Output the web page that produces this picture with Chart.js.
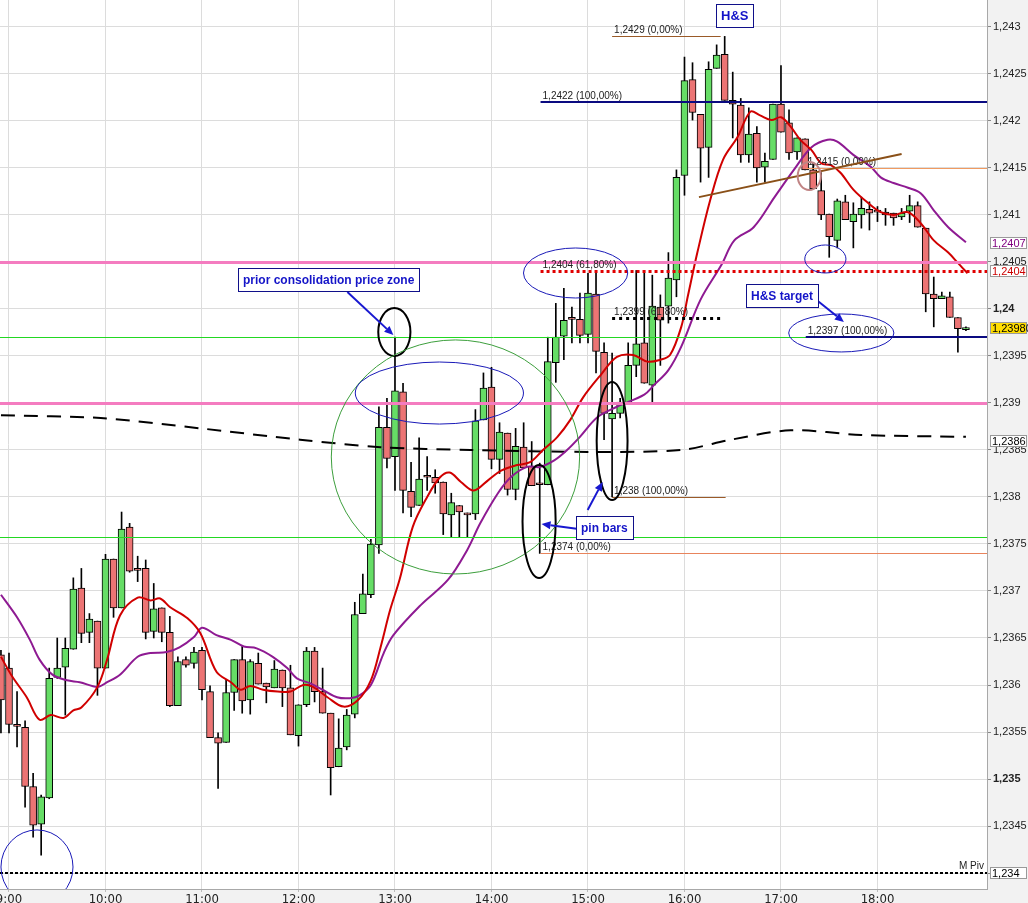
<!DOCTYPE html>
<html><head><meta charset="utf-8">
<script src="https://cdn.jsdelivr.net/npm/chart.js@4.4.0/dist/chart.umd.min.js"></script>
<style>html,body{margin:0;padding:0;background:#f2f2f2;}canvas{display:block;}</style>
</head><body>
<canvas id="c" width="1028" height="903"></canvas>
<script>
// ---- candle data (5-minute bars) ----
const times = ["8:55",
"9:00","9:05","9:10","9:15","9:20","9:25","9:30","9:35","9:40","9:45","9:50","9:55",
"10:00","10:05","10:10","10:15","10:20","10:25","10:30","10:35","10:40","10:45","10:50","10:55",
"11:00","11:05","11:10","11:15","11:20","11:25","11:30","11:35","11:40","11:45","11:50","11:55",
"12:00","12:05","12:10","12:15","12:20","12:25","12:30","12:35","12:40","12:45","12:50","12:55",
"13:00","13:05","13:10","13:15","13:20","13:25","13:30","13:35","13:40","13:45","13:50","13:55",
"14:00","14:05","14:10","14:15","14:20","14:25","14:30","14:35","14:40","14:45","14:50","14:55",
"15:00","15:05","15:10","15:15","15:20","15:25","15:30","15:35","15:40","15:45","15:50","15:55",
"16:00","16:05","16:10","16:15","16:20","16:25","16:30","16:35","16:40","16:45","16:50","16:55",
"17:00","17:05","17:10","17:15","17:20","17:25","17:30","17:35","17:40","17:45","17:50","17:55",
"18:00","18:05","18:10","18:15","18:20","18:25","18:30","18:35","18:40","18:45","18:50","18:55"];
const opens = [1.23632,1.23618,1.23558,1.23555,1.23492,1.23452,1.2348,1.23608,1.23619,1.23638,
1.23703,1.23656,1.23668,1.23618,1.23734,1.23682,1.23768,1.23723,1.23724,1.23657,
1.23682,1.23656,1.23578,1.23627,1.23623,1.23637,1.23593,1.23544,1.23539,1.23592,
1.23627,1.23584,1.23623,1.23602,1.23597,1.23616,1.23597,1.23546,1.23579,1.23636,
1.23593,1.2357,1.23513,1.23534,1.23569,1.23676,1.23696,1.23749,1.23874,1.23843,
1.23912,1.23806,1.23791,1.23822,1.23821,1.23816,1.23781,1.23791,1.23783,1.23782,
1.23882,1.23917,1.2384,1.23868,1.23808,1.23853,1.23833,1.23814,1.23813,1.23943,
1.23971,1.2399,1.23989,1.23973,1.24016,1.23954,1.23883,1.23889,1.239,1.2394,
1.23964,1.23919,1.24002,1.24003,1.24031,1.24142,1.24244,1.24207,1.24172,1.24256,
1.24271,1.24222,1.24217,1.24164,1.24187,1.24151,1.24159,1.24218,1.24198,1.24167,
1.24181,1.24148,1.24126,1.24101,1.24073,1.24114,1.24093,1.241,1.24106,1.24104,
1.24103,1.24102,1.24098,1.24104,1.2411,1.24086,1.24016,1.24011,1.24013,1.23991,1.23978];
const highs = [1.23637,1.23634,1.23593,1.23562,1.23506,1.23483,1.23618,1.2365,1.2365,1.23714,
1.23724,1.23676,1.23668,1.23739,1.23734,1.23784,1.23772,1.23737,1.23733,1.23708,
1.23682,1.23673,1.2363,1.2363,1.2364,1.2364,1.23599,1.23549,1.23605,1.23627,
1.23641,1.23627,1.23634,1.23602,1.23626,1.23616,1.23621,1.23579,1.2364,1.2364,
1.23618,1.2357,1.23564,1.23574,1.23688,1.23718,1.23755,1.23896,1.23905,1.2397,
1.23921,1.23837,1.23863,1.23843,1.23829,1.23816,1.23804,1.23791,1.23783,1.23893,
1.23932,1.23938,1.23879,1.23868,1.23873,1.23879,1.23859,1.23836,1.2397,1.24006,
1.24022,1.24002,1.24017,1.24038,1.24038,1.23964,1.23953,1.23905,1.23964,1.24041,
1.24041,1.24036,1.24015,1.2406,1.24148,1.24268,1.24262,1.24207,1.24263,1.24281,
1.2429,1.24252,1.24224,1.24214,1.24194,1.24166,1.24218,1.24259,1.24212,1.24182,
1.24181,1.24155,1.24145,1.24101,1.24117,1.24121,1.24113,1.24119,1.24114,1.24109,
1.24107,1.24102,1.24107,1.24121,1.24114,1.24086,1.24034,1.24018,1.24018,1.23991,1.23981];
const lows = [1.23549,1.23549,1.23534,1.2347,1.23438,1.23419,1.23479,1.23607,1.23568,1.23638,
1.23645,1.23645,1.23589,1.23618,1.23672,1.23682,1.2372,1.2371,1.23649,1.2365,
1.23646,1.23577,1.23578,1.23619,1.23618,1.23584,1.23544,1.2349,1.23539,1.23573,
1.2357,1.23569,1.23601,1.23581,1.23597,1.23577,1.23547,1.23535,1.23577,1.23582,
1.2357,1.23483,1.23513,1.23531,1.23565,1.23676,1.23693,1.2374,1.23831,1.23807,
1.23783,1.23779,1.23791,1.23807,1.23804,1.2376,1.23757,1.23757,1.23757,1.23776,
1.23882,1.2383,1.23825,1.23802,1.23797,1.23831,1.23812,1.2374,1.23813,1.23922,
1.23946,1.23964,1.23964,1.23964,1.23932,1.23861,1.238,1.23884,1.239,1.23928,
1.23921,1.23901,1.2394,1.23985,1.24013,1.24121,1.24201,1.24135,1.2414,1.24256,
1.24222,1.24182,1.24156,1.24156,1.24135,1.24135,1.24159,1.24188,1.24159,1.24159,
1.24148,1.24128,1.24095,1.24055,1.24065,1.24095,1.24065,1.24086,1.24084,1.24093,
1.24089,1.24089,1.24095,1.24092,1.24087,1.23997,1.23981,1.24011,1.23991,1.23954,1.23977];
const closes = [1.23584,1.23558,1.23556,1.23492,1.23451,1.23481,1.23607,1.23618,1.23639,1.23702,
1.23655,1.2367,1.23618,1.23734,1.23682,1.23766,1.23721,1.23722,1.23656,1.23681,
1.23656,1.23578,1.23625,1.23621,1.23635,1.23595,1.23544,1.23538,1.23592,1.23627,
1.23583,1.23625,1.23601,1.23598,1.23617,1.23597,1.23547,1.23579,1.23636,1.23593,
1.2357,1.23512,1.23533,1.23568,1.23675,1.23697,1.2375,1.23874,1.23841,1.23913,
1.23807,1.23789,1.23819,1.23821,1.23815,1.23782,1.23794,1.23784,1.23781,1.23881,
1.23916,1.2384,1.23869,1.23808,1.23854,1.23831,1.23812,1.23813,1.23944,1.2397,
1.23988,1.23989,1.23972,1.24017,1.23955,1.23889,1.23889,1.23901,1.2394,1.23963,
1.23921,1.24003,1.23988,1.24033,1.2414,1.24243,1.24209,1.24171,1.24255,1.2427,
1.24222,1.24218,1.24164,1.24186,1.2415,1.24157,1.24218,1.24188,1.24166,1.24182,
1.24148,1.24128,1.241,1.24077,1.24115,1.24095,1.24101,1.24107,1.24102,1.24103,
1.241,1.24097,1.24102,1.2411,1.24087,1.24016,1.24011,1.24014,1.23991,1.23979,1.2398];

// ---- moving averages (minutes after 9:00, price) ----
const fastMaMinutes = [-5,2,11,19,26,34,40,45,55,61,69,80,88,94,100,111,119,129,138,144,150,158,167,175,183,189,198,208,217,225,231,237,243,251,260,268,274,281,289,298,306,316,324,332,341,349,357,368,378,388,397,405,411,418,422,428,436,444,453,461,467,474,480,486,492,499,505,511,517,525,534,542,550,559,567,575,584,590,596];
const fastMaValues = [1.2363,1.23609,1.23587,1.23563,1.23568,1.23565,1.23573,1.23576,1.23598,1.23627,1.23674,1.23693,1.2369,1.23692,1.23683,1.23671,1.23655,1.23614,1.23603,1.23595,1.23599,1.23595,1.23593,1.23593,1.236,1.23598,1.23587,1.23577,1.23584,1.23605,1.2364,1.2368,1.23713,1.23768,1.238,1.23821,1.23826,1.23816,1.23807,1.23818,1.23828,1.23834,1.23837,1.2385,1.23864,1.23882,1.23906,1.2393,1.23949,1.23951,1.23944,1.23946,1.23951,1.23981,1.24013,1.2406,1.24116,1.24159,1.24183,1.2421,1.24206,1.24201,1.24204,1.24194,1.2418,1.24169,1.24155,1.24153,1.24145,1.24127,1.24113,1.24103,1.241,1.24103,1.24091,1.24073,1.2406,1.24049,1.24038];
const slowMaMinutes = [-5,5,13,19,27,36,44,55,61,69,80,88,98,106,115,120,129,138,146,154,164,173,179,187,195,204,212,218,225,233,239,256,273,285,293,304,312,322,330,339,347,355,366,378,395,401,410,418,430,443,451,463,476,488,499,509,515,525,536,542,550,559,567,575,584,595];
const slowMaValues = [1.23696,1.23672,1.23648,1.23627,1.23611,1.23605,1.23603,1.23598,1.23603,1.23611,1.2363,1.23634,1.23635,1.2364,1.23651,1.23661,1.23653,1.23648,1.23641,1.23639,1.2363,1.23618,1.23607,1.23602,1.23595,1.23587,1.23586,1.23589,1.236,1.23634,1.23653,1.23685,1.23712,1.23744,1.23772,1.23804,1.23821,1.23832,1.23832,1.23839,1.2385,1.23864,1.23885,1.23896,1.23909,1.23919,1.23935,1.2396,1.2401,1.24047,1.24073,1.24087,1.24119,1.24148,1.24172,1.2418,1.24178,1.24164,1.24151,1.2414,1.24134,1.24129,1.24123,1.24105,1.24087,1.24071];
const longMaMinutes = [-5,57,119,181,231,287,362,418,449,486,530,595];
const longMaValues = [1.23887,1.23884,1.23873,1.23861,1.23853,1.2385,1.23848,1.2385,1.23861,1.23871,1.23866,1.23864];

// ---- axis ----
const xTickHours = ["9:00","10:00","11:00","12:00","13:00","14:00","15:00","16:00","17:00","18:00"];
const priceStep = 0.0005;

// ---- annotation values ----
const zoneLevels = [1.2405, 1.239];
const supportLevels = [1.2397, 1.23757];
const pivotLevel = 1.234;
const fibLevels = [1.2429, 1.2422, 1.2415, 1.2404, 1.2399, 1.2397, 1.238, 1.2374];
const fibLabels = ["1,2429 (0,00%)","1,2422 (100,00%)","1,2415 (0,00%)","1,2404 (61,80%)","1,2399 (61,80%)","1,2397 (100,00%)","1,238 (100,00%)","1,2374 (0,00%)"];
const fibFrom = [375, 330.5, 495.4, 330.5, 375, 495.4, 375, 330.5];
const fibTo = [442.5, null, null, null, 443.8, null, 445.6, null];
const necklineMinutes = [429, 555];
const necklinePrices = [1.24119, 1.24165];
const ellipseMinutes = [17.4, 239.6, 277.6, 267.6, 329.6, 375, 352.3, 507.6, 497.6, 517.5];
const ellipsePrices = [1.234064, 1.239755, 1.238426, 1.239106, 1.237739, 1.238596, 1.240383, 1.240532, 1.241415, 1.239745];
const ellipseHalfMinutes = [22.4, 10, 77.2, 52.3, 10.3, 9.6, 32.4, 12.8, 7.2, 32.7];
const ellipseHalfPrices = [0.000394, 0.000255, 0.001245, 0.00033, 0.000601, 0.000628, 0.000266, 0.000149, 0.000149, 0.000202];
const ellipseKinds = ["blue","black","green","blue","black","black","blue","blue","rose","blue"];
const noteTexts = ["prior consolidation price zone", "H&S", "H&S target", "pin bars"];
const noteMinutes = [142.5, 439.4, 458.1, 352.3];
const notePrices = [1.240436, 1.243245, 1.240266, 1.237798];
const arrowFrom = [[210.4, 1.240181], [354.1, 1.23766], [359.8, 1.237862], [499.8, 1.240128]];
const arrowTo = [[239, 1.239723], [331.1, 1.237713], [369.1, 1.23816], [519.1, 1.239862]];
const axisMarkPrices = [1.2407, 1.2404, 1.2398, 1.2386, 1.234];
const axisMarkTexts = ["1,2407", "1,2404", "1,23980", "1,2386", "1,234"];

// ---- build ----
const mins = times.map(t => { const [h, m] = t.split(':').map(Number); return (h - 9) * 60 + m; });
const isUp = i => closes[i] >= opens[i];
const NARROW = '"Liberation Sans Narrow","DejaVu Sans Condensed","Liberation Sans",Arial,sans-serif';
const SANS = '"Liberation Sans",Arial,"DejaVu Sans",sans-serif';

const bgPlugin = {
  id: 'bg',
  beforeDraw(chart) {
    const {ctx, chartArea: a} = chart;
    ctx.save();
    ctx.fillStyle = '#f2f2f2';
    ctx.fillRect(0, 0, chart.width, chart.height);
    ctx.fillStyle = '#ffffff';
    ctx.fillRect(a.left, a.top, a.right - a.left, a.bottom - a.top);
    ctx.restore();
  }
};

function arrow(ctx, x1, y1, x2, y2, color) {
  ctx.strokeStyle = color; ctx.fillStyle = color; ctx.lineWidth = 2; ctx.setLineDash([]);
  const ang = Math.atan2(y2 - y1, x2 - x1), L = 9, W = 4;
  const bx = x2 - L * Math.cos(ang), by = y2 - L * Math.sin(ang);
  ctx.beginPath(); ctx.moveTo(x1, y1); ctx.lineTo(bx, by); ctx.stroke();
  ctx.beginPath(); ctx.moveTo(x2, y2);
  ctx.lineTo(bx + W * Math.sin(ang), by - W * Math.cos(ang));
  ctx.lineTo(bx - W * Math.sin(ang), by + W * Math.cos(ang));
  ctx.closePath(); ctx.fill();
}

const annotPlugin = {
  id: 'annot',
  afterDatasetsDraw(chart) {
    const {ctx, chartArea: a, scales: {x, y}} = chart;
    const X = v => x.getPixelForValue(v), Y = v => y.getPixelForValue(v);
    ctx.save();
    ctx.beginPath(); ctx.rect(a.left, a.top, a.right - a.left, a.bottom - a.top); ctx.clip();
    const hline = (p, x0, x1, color, w, dash) => {
      const yy = Math.round(Y(p)) + (w % 2 ? 0.5 : 0);
      ctx.beginPath(); ctx.setLineDash(dash || []); ctx.strokeStyle = color; ctx.lineWidth = w;
      ctx.moveTo(x0, yy); ctx.lineTo(x1, yy); ctx.stroke();
    };
    supportLevels.forEach(p => hline(p, a.left, a.right, '#22d822', 1));
    zoneLevels.forEach(p => hline(p, a.left, a.right, '#f47cc0', 3));
    hline(pivotLevel, a.left, a.right, '#000', 2, [3, 2]);

    const fibStyle = [
      ['#9a5a28', 1, []], ['#0a0a80', 2, []], ['#f09a60', 1, []], ['#e00000', 3, [3, 3]],
      ['#000000', 3, [3, 4]], ['#0a0a80', 2, []], ['#9a5a28', 1, []], ['#e8845c', 1, []]
    ];
    fibLevels.forEach((p, i) => {
      const x0 = X(fibFrom[i]), x1 = fibTo[i] == null ? a.right : X(fibTo[i]);
      const s = fibStyle[i];
      hline(p, x0, x1, s[0], s[1], s[2]);
    });
    ctx.setLineDash([]);
    ctx.font = '10px ' + SANS; ctx.fillStyle = '#222'; ctx.textBaseline = 'bottom'; ctx.textAlign = 'left';
    fibLevels.forEach((p, i) => ctx.fillText(fibLabels[i], X(fibFrom[i]) + 2, Math.round(Y(p)) - 1));
    ctx.textAlign = 'right';
    ctx.fillText('M Piv', a.right - 3, Math.round(Y(pivotLevel)) - 2);

    // neckline
    ctx.beginPath(); ctx.strokeStyle = '#8a5018'; ctx.lineWidth = 2;
    ctx.moveTo(X(necklineMinutes[0]), Y(necklinePrices[0])); ctx.lineTo(X(necklineMinutes[1]), Y(necklinePrices[1])); ctx.stroke();

    // ellipses
    const kind = {blue: ['#1a1ab8', 1], black: ['#000', 2], green: ['#3d9f3d', 1], rose: ['#c08484', 2]};
    ellipseMinutes.forEach((m, i) => {
      const cx = X(m), cy = Y(ellipsePrices[i]);
      const rx = Math.abs(X(m + ellipseHalfMinutes[i]) - cx), ry = Math.abs(Y(ellipsePrices[i] + ellipseHalfPrices[i]) - cy);
      const k = kind[ellipseKinds[i]];
      ctx.beginPath(); ctx.strokeStyle = k[0]; ctx.lineWidth = k[1];
      ctx.ellipse(cx, cy, rx, ry, 0, 0, Math.PI * 2); ctx.stroke();
    });

    // arrows
    arrowFrom.forEach((f, i) => arrow(ctx, X(f[0]), Y(f[1]), X(arrowTo[i][0]), Y(arrowTo[i][1]), '#1818d0'));

    // note boxes
    ctx.textAlign = 'left'; ctx.textBaseline = 'middle';
    noteTexts.forEach((t, i) => {
      ctx.font = 'bold ' + (i === 1 ? 13 : 12) + 'px ' + SANS;
      const w = Math.round(ctx.measureText(t).width) + 10, h = 23;
      const bx = Math.round(X(noteMinutes[i])), by = Math.round(Y(notePrices[i]));
      ctx.fillStyle = '#fff'; ctx.fillRect(bx, by, w, h);
      ctx.strokeStyle = '#10108a'; ctx.lineWidth = 1; ctx.strokeRect(bx + 0.5, by + 0.5, w, h);
      ctx.fillStyle = '#1414c8'; ctx.fillText(t, bx + 5, by + h / 2 + 1);
    });
    ctx.restore();
  },
  afterDraw(chart) {
    const {ctx, chartArea: a, scales: {y}} = chart;
    ctx.save();
    ctx.font = '11px ' + SANS; ctx.textBaseline = 'middle'; ctx.textAlign = 'left';
    const styles = [['#fff', '#800080'], ['#fff', '#cc0000'], ['#ffdd00', '#000'], ['#fff', '#000'], ['#fff', '#000']];
    axisMarkPrices.forEach((p, i) => {
      const cy = Math.round(y.getPixelForValue(p));
      const bx = a.right + 3, bw = chart.width - bx - 1, bh = 12;
      ctx.fillStyle = styles[i][0]; ctx.fillRect(bx, cy - bh / 2, bw, bh);
      ctx.strokeStyle = '#9a9a9a'; ctx.lineWidth = 1; ctx.strokeRect(bx + 0.5, cy - bh / 2 + 0.5, bw - 1, bh - 1);
      ctx.fillStyle = styles[i][1]; ctx.fillText(axisMarkTexts[i], bx + 2, cy + 1);
    });
    ctx.restore();
  }
};

const bodyData = mins.map((m, i) => ({x: m, y: [opens[i], closes[i]]}));
const wickData = mins.map((m, i) => ({x: m, y: [lows[i], highs[i]]}));
const toPts = (ms, vs) => ms.map((m, i) => ({x: m, y: vs[i]}));
const isRoundPrice = v => typeof v === 'number' && Math.abs(v * 200 - Math.round(v * 200)) < 1e-6;

new Chart(document.getElementById('c'), {
  type: 'bar',
  data: {
    datasets: [
      {type: 'line', data: toPts(fastMaMinutes, fastMaValues), borderColor: '#d00000', borderWidth: 2, pointRadius: 0, tension: 0.35, order: 0},
      {type: 'line', data: toPts(slowMaMinutes, slowMaValues), borderColor: '#8e1a92', borderWidth: 2, pointRadius: 0, tension: 0.35, order: 0},
      {type: 'line', data: toPts(longMaMinutes, longMaValues), borderColor: '#000', borderWidth: 2, borderDash: [14, 9], pointRadius: 0, tension: 0.3, order: 0},
      {type: 'bar', data: bodyData, grouped: false, barThickness: 7, minBarLength: 2,
        backgroundColor: c => isUp(c.dataIndex) ? '#66dd66' : '#ec7474',
        borderColor: '#000', borderWidth: 1, borderSkipped: false, order: 1},
      {type: 'bar', data: wickData, grouped: false, barThickness: 1, backgroundColor: '#000', borderWidth: 0, order: 2}
    ]
  },
  options: {
    responsive: false, animation: false, devicePixelRatio: 1,
    layout: {padding: 0},
    plugins: {legend: {display: false}, tooltip: {enabled: false}},
    scales: {
      x: {
        type: 'linear', min: -5.596, max: 608.1, offset: false,
        grid: {color: '#dcdcdc', offset: false, drawTicks: true, tickLength: 3, tickColor: '#bbb'},
        border: {color: '#a8a8a8'},
        ticks: {stepSize: 60, includeBounds: false, autoSkip: false, maxRotation: 0, padding: 0,
          color: '#222', font: {family: NARROW, size: 13},
          callback: v => xTickHours[Math.round(v / 60)]},
        afterBuildTicks: s => { s.ticks = s.ticks.filter(t => t.value >= 0 && t.value <= 540); },
        afterFit: s => { s.height = 14; s.paddingLeft = 0; s.paddingRight = 0; }
      },
      y: {
        type: 'linear', position: 'right', min: 1.2338298, max: 1.2432872,
        grid: {color: '#dcdcdc', drawTicks: true, tickLength: 4, tickColor: '#888'},
        border: {color: '#a8a8a8'},
        ticks: {stepSize: priceStep, includeBounds: false, padding: 2, color: '#222',
          font: c => ({family: SANS, size: 11, weight: (c && c.tick && isRoundPrice(c.tick.value)) ? 'bold' : 'normal'}),
          callback: v => String(+(+v).toFixed(5)).replace('.', ',')},
        afterFit: s => { s.width = 41; s.paddingTop = 0; s.paddingBottom = 0; }
      }
    }
  },
  plugins: [bgPlugin, annotPlugin]
});
</script>
</body></html>
